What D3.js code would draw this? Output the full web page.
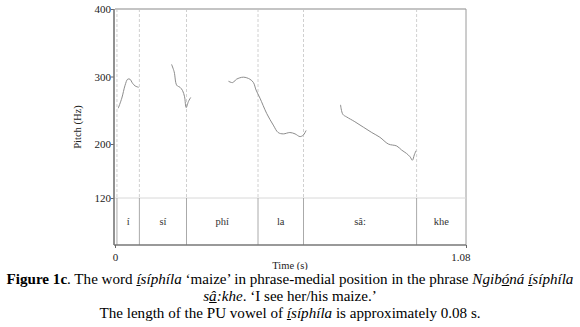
<!DOCTYPE html>
<html><head><meta charset="utf-8">
<script src="https://cdn.jsdelivr.net/npm/d3@7"></script>
<style>
body{margin:0;background:#fff;width:580px;height:327px;overflow:hidden;position:relative;font-family:"Liberation Serif","Times New Roman",serif;}
svg{position:absolute;left:0;top:0;}
svg text{font-family:"Liberation Serif","Times New Roman",serif !important;}
#cap{position:absolute;left:0;top:271px;width:580px;text-align:center;font-size:15.1px;line-height:17px;color:#000;white-space:nowrap;}
#cap i{font-style:italic;}
</style></head><body>
<svg id="chart" width="580" height="270"></svg>
<div id="cap">
<div><b>Figure 1c</b>. The word <i><u>í</u>síphíla</i> ‘maize’ in phrase-medial position in the phrase <i>Ngib<u>ó</u>ná <u>í</u>síphíla</i></div>
<div><i>s<u>â</u>:khe</i>. ‘I see her/his maize.’</div>
<div>The length of the PU vowel of <i><u>í</u>síphíla</i> is approximately 0.08 s.</div>
</div>
<script>
// Data
const yTicks = [400, 300, 200, 120];
const xTickLabels = ["0", "1.08"];
const xDomain = [0, 1.08];
const boundaries = [0.006, 0.075, 0.22, 0.44, 0.58, 0.928];
const syllables = ["í", "sí", "phí", "la", "sâ:", "khe"];
const seg1T = [0.010,0.021,0.031,0.039,0.046,0.054,0.062,0.073];
const seg1Hz = [253,268,287,296,296,290,286,284];
const seg2T = [0.174,0.182,0.190,0.200,0.208,0.214,0.219,0.226,0.233];
const seg2Hz = [318,307,287,284,279,270,254,263,269];
const seg3T = [0.349,0.362,0.374,0.395,0.415,0.426,0.434,0.446,0.467,0.487,0.502,0.518,0.538,0.554,0.569,0.579,0.588];
const seg3Hz = [293,291,296,299,296,291,280,268,245,228,217,215,217,215,211,213,220];
const seg4T = [0.694,0.701,0.713,0.738,0.764,0.790,0.815,0.841,0.867,0.882,0.897,0.908,0.915,0.921,0.926];
const seg4Hz = [258,244,240,233,225,217,210,200,197,191,186,181,176,184,190];

const svg = d3.select("#chart");
const L = 115, R = 466, T = 9, B = 245, Y120 = 198;
const x = d3.scaleLinear().domain(xDomain).range([L, R]);
const y = d3.scaleLinear().domain([120, 400]).range([Y120, T]);

// frame
svg.append("line").attr("x1",L).attr("x2",R).attr("y1",T).attr("y2",T).attr("stroke","#8a8a8a").attr("stroke-width",1.2);
svg.append("line").attr("x1",R).attr("x2",R).attr("y1",T).attr("y2",B).attr("stroke","#9a9a9a").attr("stroke-width",1);
svg.append("line").attr("x1",L).attr("x2",R).attr("y1",Y120).attr("y2",Y120).attr("stroke","#d8d8d8").attr("stroke-width",1);

// boundaries
boundaries.forEach(b=>{
  svg.append("line").attr("x1",x(b)).attr("x2",x(b)).attr("y1",T).attr("y2",Y120)
    .attr("stroke","#c4c4c4").attr("stroke-width",0.8).attr("stroke-dasharray","3,2");
  svg.append("line").attr("x1",x(b)).attr("x2",x(b)).attr("y1",Y120).attr("y2",B)
    .attr("stroke","#a0a0a0").attr("stroke-width",0.9);
});

// syllable labels
const starts = boundaries.slice();
const ends = boundaries.slice(1).concat([1.08]);
svg.append("g").selectAll("text").data(syllables).join("text")
  .attr("x",(d,i)=>x((starts[i]+ends[i])/2))
  .attr("y",225).attr("text-anchor","middle")
  .attr("font-size",10.5).attr("fill","#333").text(d=>d);

// axes
const yAxis = d3.axisLeft(y).tickValues(yTicks).tickSize(3).tickFormat(d3.format("d"));
const gy = svg.append("g").attr("transform",`translate(${L-1},0)`).call(yAxis);
gy.select(".domain").remove();
gy.append("line").attr("x1",0).attr("x2",0).attr("y1",T).attr("y2",B).attr("stroke","#777").attr("stroke-width",1.6);
gy.selectAll(".tick line").attr("stroke","#666");
gy.selectAll(".tick text").attr("font-size",11).attr("fill","#222").attr("x",-3);

const xAxis = d3.axisBottom(x).tickValues(xDomain).tickSize(3).tickFormat((d,i)=>xTickLabels[i]);
const gx = svg.append("g").attr("transform",`translate(0,${B})`).call(xAxis);
gx.select(".domain").attr("stroke","#777").attr("stroke-width",1.3).attr("d",`M${L-1},0H${R}`);
gx.selectAll(".tick line").attr("stroke","#666");
gx.selectAll(".tick text").attr("font-size",11).attr("fill","#222").attr("dy","0.9em");
gx.selectAll(".tick text").filter((d,i)=>i===1).attr("text-anchor","end").attr("dx","4");

// pitch curves
const line = d3.line().x(d=>x(d[0])).y(d=>y(d[1])).curve(d3.curveCatmullRom);
[[seg1T,seg1Hz],[seg2T,seg2Hz],[seg3T,seg3Hz],[seg4T,seg4Hz]].forEach(([ts,hs])=>{
  svg.append("path").datum(ts.map((t,i)=>[t,hs[i]])).attr("d",line)
    .attr("fill","none").attr("stroke","#8c8c8c").attr("stroke-width",1);
});

// axis titles
svg.append("text").attr("transform",`translate(81,${(T+B)/2}) rotate(-90)`).attr("text-anchor","middle")
  .attr("font-size",10.5).attr("fill","#222").text("Pitch (Hz)");
svg.append("text").attr("x",290).attr("y",269).attr("text-anchor","middle")
  .attr("font-size",10.5).attr("fill","#222").text("Time (s)");
</script>
</body></html>
